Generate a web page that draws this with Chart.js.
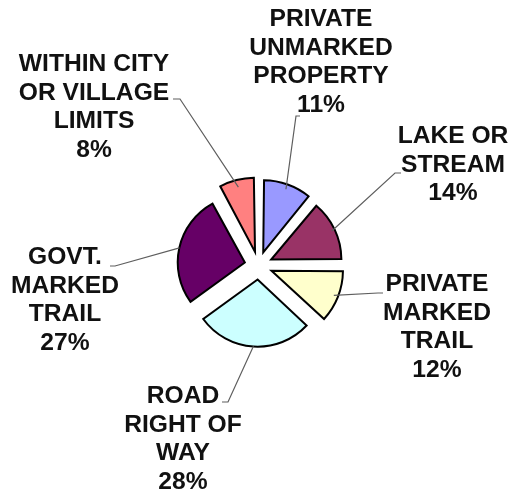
<!DOCTYPE html>
<html>
<head>
<meta charset="utf-8">
<script src="https://cdn.jsdelivr.net/npm/chart.js@4"></script>
<style>
  html, body { margin: 0; padding: 0; background: #ffffff; }
  #wrap { width: 511px; height: 493px; position: relative; }
</style>
</head>
<body>
<div id="wrap"><canvas id="c" width="511" height="493"></canvas></div>
<script>
// ---- data ----
const categories = [
  ["PRIVATE", "UNMARKED", "PROPERTY"],
  ["LAKE OR", "STREAM"],
  ["PRIVATE", "MARKED", "TRAIL"],
  ["ROAD", "RIGHT OF", "WAY"],
  ["GOVT.", "MARKED", "TRAIL"],
  ["WITHIN CITY", "OR VILLAGE", "LIMITS"]
];
const values = [11, 14, 12, 28, 27, 8];
const colors = ["#9999FF", "#993366", "#FFFFCC", "#CCFFFF", "#660066", "#FF8080"];

// ---- label layout (text centre x, first line y, elbow point, tick end) ----
const labelLayout = [
  { tx: 321, ty: 20,  ex: 296, ey: 116, kx: 300, ky: 116 },
  { tx: 453, ty: 137, ex: 395, ey: 173, kx: 401, ky: 173 },
  { tx: 437, ty: 285, ex: 378, ey: 293, kx: 383, ky: 293 },
  { tx: 183, ty: 397, ex: 228, ey: 402, kx: 222, ky: 402 },
  { tx: 65,  ty: 258, ex: 115, ey: 266, kx: 110, ky: 266 },
  { tx: 94,  ty: 65,  ex: 180, ey: 99,  kx: 173, ky: 99 }
];
const lineHeight = 28.5;
const sliceOffset = 56; // Chart.js draws arcs displaced by offset/4

const labelPlugin = {
  id: 'outLabels',
  afterDatasetsDraw(chart) {
    const ctx = chart.ctx;
    const meta = chart.getDatasetMeta(0);
    const total = values.reduce((a, b) => a + b, 0);
    meta.data.forEach((arc, i) => {
      const p = arc.getProps(['x', 'y', 'startAngle', 'endAngle', 'outerRadius'], true);
      const mid = (p.startAngle + p.endAngle) / 2;
      const off = (arc.options.offset || 0) / 4;
      const ax = p.x + Math.cos(mid) * (off + p.outerRadius);
      const ay = p.y + Math.sin(mid) * (off + p.outerRadius);
      const L = labelLayout[i];
      ctx.save();
      ctx.strokeStyle = '#5e5e5e';
      ctx.lineWidth = 1.2;
      ctx.beginPath();
      ctx.moveTo(ax, ay);
      ctx.lineTo(L.ex, L.ey);
      ctx.lineTo(L.kx, L.ky);
      ctx.stroke();
      ctx.fillStyle = '#111111';
      ctx.font = 'bold 23px "Liberation Sans", Arial, sans-serif';
      ctx.textAlign = 'center';
      ctx.textBaseline = 'middle';
      const lines = categories[i].concat([Math.round(values[i] / total * 100) + '%']);
      lines.forEach((t, j) => {
        ctx.save();
        ctx.translate(L.tx, L.ty + j * lineHeight);
        ctx.scale(1.07, 1);
        ctx.fillText(t, 0, 0);
        ctx.restore();
      });
      ctx.restore();
    });
  }
};

new Chart(document.getElementById('c'), {
  type: 'pie',
  data: {
    labels: categories.map(c => c.join(' ')),
    datasets: [{
      data: values,
      backgroundColor: colors,
      borderColor: '#000000',
      borderWidth: 2,
      borderJoinStyle: 'miter',
      offset: sliceOffset,
      radius: 67
    }]
  },
  options: {
    responsive: false,
    animation: false,
    devicePixelRatio: 1,
    layout: { padding: { left: 6, right: 0, top: 38, bottom: 0 } },
    plugins: { legend: { display: false }, tooltip: { enabled: false } }
  },
  plugins: [labelPlugin]
});
</script>
</body>
</html>
